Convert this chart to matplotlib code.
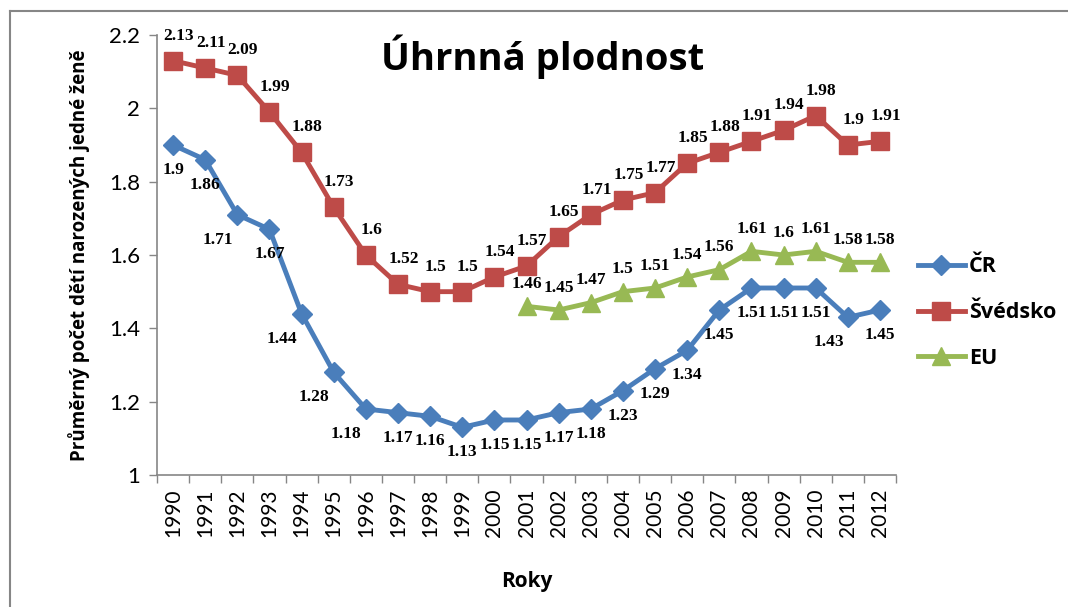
import matplotlib
matplotlib.use("Agg")
import matplotlib.pyplot as plt
from matplotlib.lines import Line2D

years = [str(y) for y in range(1990, 2013)]
cr = [1.9, 1.86, 1.71, 1.67, 1.44, 1.28, 1.18, 1.17, 1.16, 1.13, 1.15, 1.15,
      1.17, 1.18, 1.23, 1.29, 1.34, 1.45, 1.51, 1.51, 1.51, 1.43, 1.45]
svedsko = [2.13, 2.11, 2.09, 1.99, 1.88, 1.73, 1.6, 1.52, 1.5, 1.5, 1.54, 1.57,
           1.65, 1.71, 1.75, 1.77, 1.85, 1.88, 1.91, 1.94, 1.98, 1.9, 1.91]
eu_years = years[11:]
eu = [1.46, 1.45, 1.47, 1.5, 1.51, 1.54, 1.56, 1.61, 1.6, 1.61, 1.58, 1.58]

BLUE = "#4A7EBB"
RED = "#BE4B48"
GREEN = "#98B954"
GREY = "#868686"

fig = plt.figure(figsize=(10.68, 6.07), dpi=100)
ax = fig.add_axes([0.147, 0.2175, 0.692, 0.7248])

x_all = list(range(len(years)))
x_eu = [years.index(y) for y in eu_years]

ax.plot(x_all, cr, color=BLUE, lw=3.5, marker="D", ms=10, label="ČR")
ax.plot(x_all, svedsko, color=RED, lw=3.5, marker="s", ms=13, label="Švédsko")
ax.plot(x_eu, eu, color=GREEN, lw=3.5, marker="^", ms=13, label="EU")

lab = dict(fontsize=12.5, fontweight="bold", family="Liberation Serif",
           ha="center", va="center", textcoords="offset points")
for i, v in enumerate(cr):
    # shift left where the curve drops steeply
    dx = -14 if i > 0 and cr[i - 1] - v > 0.08 else 0
    ax.annotate(f"{v:g}", (x_all[i], v), xytext=(dx, -18), **lab)
for i, v in enumerate(svedsko):
    ax.annotate(f"{v:g}", (x_all[i], v), xytext=(4, 18), **lab)
for i, v in enumerate(eu):
    ax.annotate(f"{v:g}", (x_eu[i], v), xytext=(0, 16), **lab)

ax.set_xlim(-0.5, len(years) - 0.5)
ax.set_ylim(1, 2.2)
ax.set_yticks([1, 1.2, 1.4, 1.6, 1.8, 2, 2.2])
ax.set_yticklabels(["1", "1.2", "1.4", "1.6", "1.8", "2", "2.2"])
ax.set_xticks(x_all)
ax.set_xticklabels(years, rotation=90)
ax.set_xticks([i - 0.5 for i in range(len(years) + 1)], minor=True)
ax.tick_params(axis="x", which="major", length=0, pad=10, labelsize=15)
ax.tick_params(axis="x", which="minor", length=6, color=GREY, width=1)
ax.tick_params(axis="y", length=6, color=GREY, width=1, labelsize=16, pad=6)
for t in ax.get_xticklabels() + ax.get_yticklabels():
    t.set_family("Lato")

for s in ("top", "right"):
    ax.spines[s].set_visible(False)
for s in ("left", "bottom"):
    ax.spines[s].set_color(GREY)
    ax.spines[s].set_linewidth(1.2)

ax.set_ylabel("Průměrný počet dětí narozených jedné ženě", fontsize=13.5,
              fontweight="bold", family="Open Sans", labelpad=14)
ax.set_xlabel("Roky", fontsize=15, fontweight="bold", family="Open Sans",
              labelpad=24)

fig.text(0.508, 0.906, "Úhrnná plodnost", fontsize=27.5, fontweight="bold",
         family="Open Sans", ha="center", va="center")

fig.legend(loc="center left", bbox_to_anchor=(0.841, 0.485), frameon=False,
           handlelength=2.2, labelspacing=1.15, handletextpad=0.2,
           prop={"family": "Open Sans", "weight": "bold", "size": 15.5})

# outer chart border (top and left only are visible)
fig.add_artist(Line2D([10 / 1068, 1.0], [1 - 11 / 607, 1 - 11 / 607],
                      transform=fig.transFigure, color=GREY, lw=1.5))
fig.add_artist(Line2D([10 / 1068, 10 / 1068], [0, 1 - 11 / 607],
                      transform=fig.transFigure, color=GREY, lw=1.5))

fig.savefig("out.png", dpi=100)
